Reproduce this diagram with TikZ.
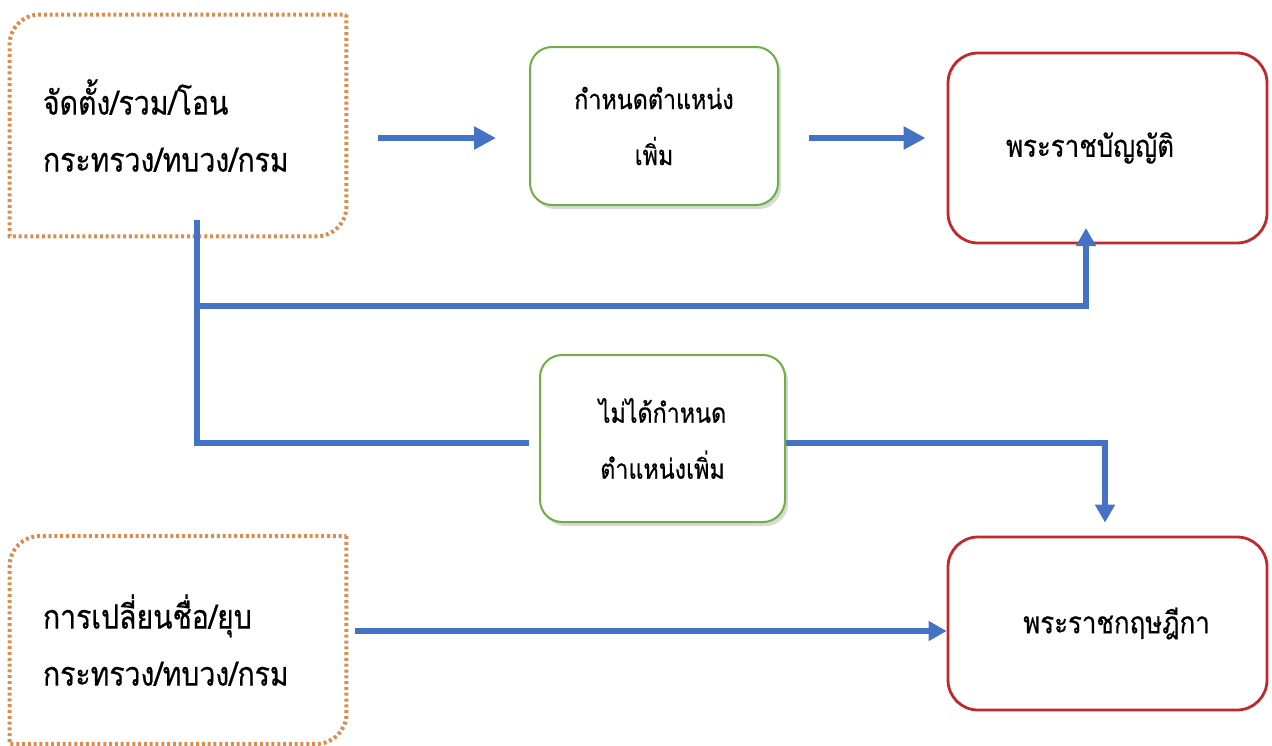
\documentclass[tikz,border=0pt]{standalone}
\usepackage{fontspec}
\newfontfamily\thai[Script=Thai,FakeStretch=0.85,FakeBold=0.5]{Loma}
\usetikzlibrary{arrows.meta,shadows,calc}
\definecolor{flowblue}{HTML}{4472C4}
\definecolor{boxgreen}{HTML}{70AD47}
\definecolor{boxred}{HTML}{C0282D}
\definecolor{boxorange}{HTML}{D98E4F}
\begin{document}
\begin{tikzpicture}[x=0.5pt,y=-0.5pt,
  flow/.style={draw=flowblue,line width=3pt},
  tipbig/.style={-{Triangle[length=11pt,width=11pt]}},
  tipsmall/.style={-{Triangle[length=9pt,width=9.5pt]}},
  orangedot/.style={draw=boxorange,line width=2pt,dash pattern=on 1.5pt off 1.4pt},
  orangebox/.style={rectangle,inner xsep=16.5pt,inner ysep=0pt,text width=135pt,align=left,
    font=\thai\fontsize{16.7}{28.5}\selectfont},
  greenbox/.style={rectangle,draw=boxgreen,line width=1pt,rounded corners=11pt,fill=white,
    drop shadow={opacity=0.3,shadow xshift=1.5pt,shadow yshift=-2pt},
    align=center,inner sep=0pt,font=\thai\fontsize{13.7}{28}\selectfont},
  redbox/.style={rectangle,draw=boxred,line width=1.4pt,rounded corners=15pt,
    align=center,inner sep=0pt,minimum width=159.5pt,font=\thai\fontsize{15.2}{28}\selectfont}]
\useasboundingbox (0,0) rectangle (1272,745);
% boxes
\node[orangebox,minimum height=110.5pt] (ob1) at (178,125.5) {จัดตั้ง/รวม/โอน\\กระทรวง/ทบวง/กรม};
\node[orangebox,minimum height=103.5pt] (ob2) at (178,640) {การเปลี่ยนชื่อ/ยุบ\\กระทรวง/ทบวง/กรม};
\draw[orangedot] (ob1.north east) -- ([yshift=15pt]ob1.south east)
  arc[start angle=0,end angle=-90,radius=15pt] -- (ob1.south west)
  -- ([yshift=-15pt]ob1.north west) arc[start angle=180,end angle=90,radius=15pt] -- cycle;
\draw[orangedot] (ob2.north east) -- ([yshift=15pt]ob2.south east)
  arc[start angle=0,end angle=-90,radius=15pt] -- (ob2.south west)
  -- ([yshift=-15pt]ob2.north west) arc[start angle=180,end angle=90,radius=15pt] -- cycle;
\node[greenbox,minimum width=124pt,minimum height=79pt] (g1) at (654,126) {กำหนดตำแหน่ง\\เพิ่ม};
\node[greenbox,minimum width=122.5pt,minimum height=83.5pt] (g2) at (662.5,438.5) {ไม่ได้กำหนด\\ตำแหน่งเพิ่ม};
\node[redbox,minimum height=95pt] (r1) at (1107.5,148) {\hspace*{-17.5pt}พระราชบัญญัติ};
\node[redbox,minimum height=86.5pt] (r2) at (1107.5,623.5) {\hspace*{9pt}พระราชกฤษฎีกา};
% connectors
\coordinate (j1) at (197,220);
\coordinate (j2) at (197,306);
\coordinate (tip1) at (1086,228);
\draw[flow,tipbig,shorten <=16pt,shorten >=16.5pt] ([yshift=-6.25pt]ob1.east) -- ([yshift=-6.25pt]ob1.east -| g1.west);
\draw[flow,tipbig,shorten <=15pt,shorten >=10.5pt] ([yshift=-6pt]g1.east) -- ([yshift=-6pt]g1.east -| r1.west);
\draw[flow,shorten >=5pt] (j1) |- ([yshift=-2.25pt]g2.west);
\draw[flow,tipsmall] (j2) -| (tip1);
\draw[flow,tipsmall,shorten >=6.5pt] ([yshift=-2.25pt]g2.east) -| ([xshift=-1.25pt]r2.north);
\draw[flow,tipsmall,shorten <=4.5pt] ([yshift=4.5pt]ob2.east) -- ([yshift=4.5pt]ob2.east -| r2.west);
\end{tikzpicture}
\end{document}
